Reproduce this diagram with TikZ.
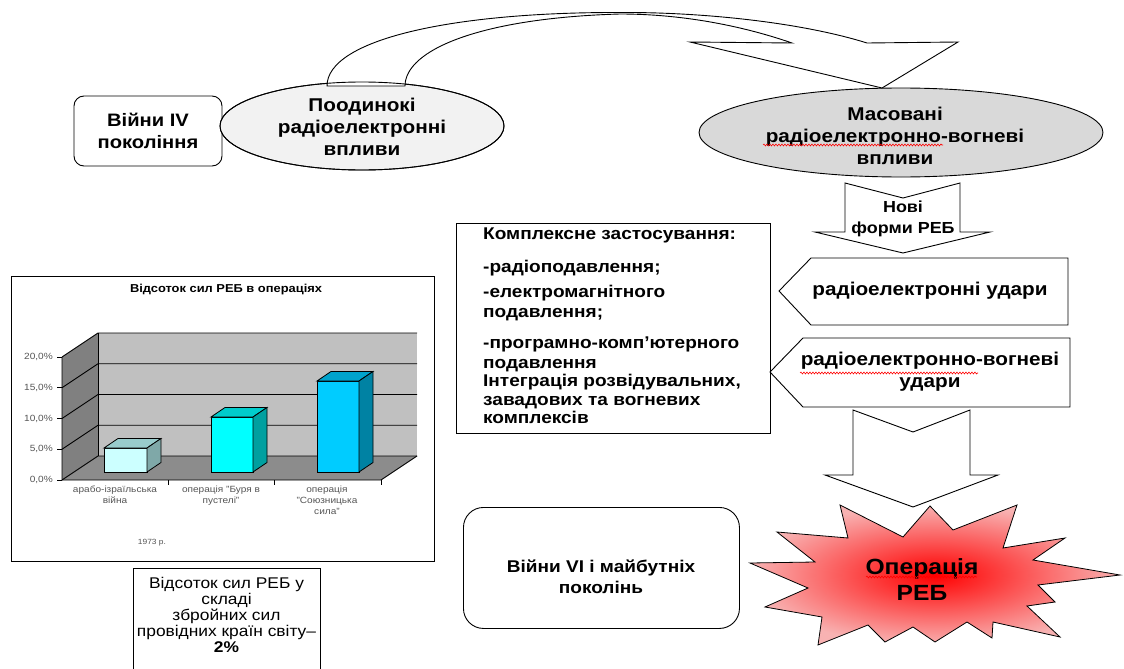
\documentclass[tikz,border=0pt]{standalone}
\usepackage{fontspec}
\setmainfont{Liberation Sans}[FakeStretch=1.12]
\usetikzlibrary{shapes.geometric,decorations.pathmorphing}
\definecolor{ellA}{HTML}{F2F2F2}
\definecolor{ellB}{HTML}{D9D9D9}
\definecolor{wallback}{HTML}{C0C0C0}
\definecolor{wallside}{HTML}{808080}
\definecolor{floorc}{HTML}{8C8C8C}
\definecolor{barAf}{HTML}{CCFFFF}
\definecolor{barAt}{HTML}{99CCCC}
\definecolor{barAs}{HTML}{7FA8A8}
\definecolor{barBf}{HTML}{00FFFF}
\definecolor{barBt}{HTML}{00CCCC}
\definecolor{barBs}{HTML}{00A0A0}
\definecolor{barCf}{HTML}{00CCFF}
\definecolor{barCt}{HTML}{00A3CC}
\definecolor{barCs}{HTML}{0082A3}
\definecolor{starout}{HTML}{F8B2B2}
\definecolor{chartgray}{HTML}{555555}
\begin{document}
\begin{tikzpicture}[x=1pt,y=-1pt,line join=miter,
  shapeline/.style={draw=black,line width=0.9pt},
  biglbl/.style={font=\fontsize{18.5}{22}\selectfont\bfseries,align=center,inner sep=0pt},
  midlbl/.style={font=\fontsize{17}{21}\selectfont\bfseries,align=center,inner sep=0pt},
  chartlbl/.style={font=\fontsize{9}{11}\selectfont,text=chartgray,align=center,inner sep=0pt},
  squiggle/.style={draw=red,line width=0.6pt,decorate,decoration={snake,amplitude=0.9pt,segment length=3pt}},
  gridln/.style={draw=black,line width=0.9pt}]
\useasboundingbox (0,0) rectangle (1124,669);

% ---- top left box
\node[draw,line width=0.9pt,rounded corners=10pt,minimum width=148pt,minimum height=70pt,fill=white,
  biglbl,font=\fontsize{18}{22}\selectfont\bfseries] (b4) at (148,131) {Війни IV\\покоління};

% ---- ellipse 1
\node[ellipse,shapeline,fill=ellA,minimum width=284pt,minimum height=88pt,inner sep=0pt] (e1) at (362,126) {};
% ---- ellipse 2
\node[ellipse,shapeline,fill=ellB,minimum width=404pt,minimum height=89pt,inner sep=0pt] (e2) at (901,132.5) {};

% ---- curved arrow
\draw[shapeline,fill=white] (327,86) .. controls (327,40) and (450,12) .. (620,12.5)
  .. controls (700,12) and (800,22) .. (867,43) -- (958,42) -- (882,88) -- (690,42) -- (792,43)
  .. controls (740,25) and (680,14) .. (620,14)
  .. controls (480,18) and (405,50) .. (405,86) -- cycle;
\node[ellipse,draw=black,line width=0.9pt,minimum width=284pt,minimum height=88pt,inner sep=0pt] (e1b) at (362,126) {};

\node[biglbl] (t1) at (362,126.5) {Поодинокі\\радіоелектронні\\впливи};
\node[biglbl] (t2) at (895,136) {Масовані\\радіоелектронно-вогневі\\впливи};
\coordinate (s1a) at (763,145);
\coordinate (s1b) at (943,145);
\draw[squiggle] (s1a) -- (s1b);

% ---- arrow "Нові форми РЕБ"
\draw[shapeline,fill=white] (845,183) -- (903,198) -- (960,183) -- (960,232) -- (990,232) -- (903,253) -- (815,232) -- (845,232) -- cycle;
\node[font=\fontsize{16}{21}\selectfont\bfseries,align=center,inner sep=0pt] (nf) at (903,219) {Нові\\форми РЕБ};

% ---- big text box
\node[draw,line width=0.9pt,minimum width=314pt,minimum height=210pt,anchor=north west,inner sep=0pt] (kb) at (456,223) {};
\node[anchor=north west,align=left,inner sep=0pt,font=\fontsize{17}{18.5}\selectfont\bfseries] (kt) at (483,228)
 {Комплексне застосування:\\[14pt]
  -радіоподавлення;\\[7pt]
  -електромагнітного\\[1pt]
  подавлення;\\[13pt]
  -програмно-комп’ютерного\\[1pt]
  подавлення\\
  Інтеграція розвідувальних,\\
  завадових та вогневих\\
  комплексів};

% ---- pentagons
\draw[shapeline,fill=white] (779,291) -- (811,258) -- (1068,258) -- (1068,325) -- (811,325) -- cycle;
\node[biglbl] (p1) at (930,291) {радіоелектронні удари};
\draw[shapeline,fill=white] (770,372) -- (803,338) -- (1070,338) -- (1070,407) -- (803,407) -- cycle;
\node[biglbl] (p2) at (930,372) {радіоелектронно-вогневі\\удари};
\coordinate (s2a) at (800,373);
\coordinate (s2b) at (978,373);
\draw[squiggle] (s2a) -- (s2b);

% ---- big arrow down
\draw[shapeline,fill=white] (853,410) -- (913,432) -- (970,410) -- (970,475) -- (998,475) -- (913,507) -- (825,475) -- (853,475) -- cycle;

% ---- star
\shadedraw[inner color=red,outer color=starout,draw=black,line width=0.8pt]
 (840,505) -- (903,537) -- (930,506) -- (953,530) -- (1017,505) -- (1003,548) -- (1065,538)
 -- (1033,560) -- (1120,575) -- (1038,585) -- (1055,602) -- (1027,606) -- (1060,637)
 -- (993,622) -- (992,638) -- (967,622) -- (935,642) -- (913,627) -- (885,642) -- (868,625)
 -- (818,645) -- (822,617) -- (765,607) -- (808,588) -- (750,563) -- (815,562) -- (777,532)
 -- (848,538) -- cycle;
\node[font=\fontsize{22}{26}\selectfont\bfseries,align=center,inner sep=0pt] (op) at (922,580) {Операція\\РЕБ};
\coordinate (s3a) at (866,577);
\coordinate (s3b) at (977,577);
\draw[squiggle] (s3a) -- (s3b);

% ---- box VI
\node[draw,line width=0.9pt,rounded corners=20pt,minimum width=276pt,minimum height=121pt,anchor=north west,inner sep=0pt] (b6) at (463,507) {};
\node[midlbl] (t6) at (601,577) {Війни VI і майбутніх\\поколінь};

% ---- chart
\node[draw,line width=1pt,fill=white,minimum width=423pt,minimum height=285pt,anchor=north west,inner sep=0pt] (ch) at (11,276) {};
\node[font=\fontsize{11.5}{13}\selectfont\bfseries,inner sep=0pt] (ctitle) at (226,290) {Відсоток сил РЕБ в операціях};
\fill[wallside] (62,357) -- (98,333) -- (98,456) -- (62,480) -- cycle;
\fill[wallback] (98,333) rectangle (417,456);
\fill[floorc] (62,480) -- (98,456) -- (417,456) -- (381,480) -- cycle;
\foreach \v in {0,1,2,3,4} {
  \draw[gridln] (62,480-30.75*\v) -- (98,456-30.75*\v) -- (417,456-30.75*\v);
  \draw[gridln] (57,480-30.75*\v) -- (62,480-30.75*\v);
}
\draw[gridln] (98,333) -- (98,456);
\draw[gridln] (62,357) -- (62,480) -- (381,480) -- (417,456);
\draw[gridln] (168,480) -- (168,485);
\draw[gridln] (274,480) -- (274,485);
\draw[gridln] (381,480) -- (381,485);
% bars
\foreach \xa/\xb/\yt/\cf/\ct/\cs in {104/147/448/barAf/barAt/barAs, 211/253/417/barBf/barBt/barBs, 317/359/381/barCf/barCt/barCs} {
  \draw[line width=0.8pt,fill=\cf] (\xa,\yt) rectangle (\xb,472);
  \draw[line width=0.8pt,fill=\ct] (\xa,\yt) -- (\xa+14,\yt-9.5) -- (\xb+14,\yt-9.5) -- (\xb,\yt) -- cycle;
  \draw[line width=0.8pt,fill=\cs] (\xb,\yt) -- (\xb+14,\yt-9.5) -- (\xb+14,462.5) -- (\xb,472) -- cycle;
}
\node[chartlbl,anchor=east] (y20) at (53,357) {20,0\%};
\node[chartlbl,anchor=east] (y15) at (53,387.75) {15,0\%};
\node[chartlbl,anchor=east] (y10) at (53,418.5) {10,0\%};
\node[chartlbl,anchor=east] (y5) at (53,449.25) {5,0\%};
\node[chartlbl,anchor=east] (y0) at (53,480) {0,0\%};
\node[chartlbl,anchor=north] (c1) at (115,486) {арабо-ізраїльська\\війна};
\node[chartlbl,anchor=north] (c2) at (221,486) {операція "Буря в\\пустелі"};
\node[chartlbl,anchor=north] (c3) at (327,486) {операція\\"Союзницька\\сила"};
\node[chartlbl,font=\fontsize{7.5}{9}\selectfont] (yr) at (152,543) {1973 р.};

% ---- small box
\draw[line width=0.9pt] (133,672) -- (133,568) -- (320,568) -- (320,672);
\node[font=\fontsize{15.5}{16}\selectfont,align=center,inner sep=0pt] (sb) at (226.5,615)
 {Відсоток сил РЕБ у\\складі\\збройних сил\\провідних країн світу–\\\textbf{2\%}};
\end{tikzpicture}
\end{document}
